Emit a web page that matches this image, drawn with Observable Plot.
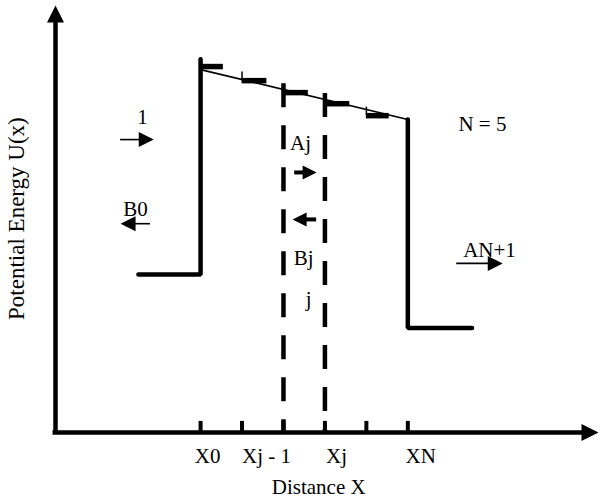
<!DOCTYPE html>
<html><head><meta charset="utf-8">
<script src="https://cdn.jsdelivr.net/npm/d3@7"></script>
<script src="https://cdn.jsdelivr.net/npm/@observablehq/plot@0.6"></script>
<style>body{margin:0;background:#fff} #chart svg{display:block}</style>
</head><body><div id="chart"></div>
<script>
// ---- data (distance units: X0 = 0 ... XN = 5; energy units U) ----
const nodeX = [0, 1, 2, 3, 4, 5];
const tickLabels = ["X0", "Xj - 1", "Xj", "XN"];
const tickLabelX = [0.17, 1.59, 3.28, 5.31];
const tickLabelU = -0.56;

const leftProfileX = [-1.5, 0, 0];
const leftProfileU = [3.7, 3.7, 8.74];
const rightProfileX = [5, 5, 6.55];
const rightProfileU = [7.33, 2.45, 2.45];
const slopeX = [0, 5];
const slopeU = [8.5, 7.33];

const stepStart = [0, 1, 2, 3, 4];
const stepEnd = [0.55, 1.6, 2.6, 3.6, 4.55];
const stepU = [8.57, 8.24, 7.96, 7.70, 7.42];

const dashedX = [2, 3];
const dashedTop = [8.17, 7.94];

const thinArrowX1 = [-1.93, -1.21, 6.18];
const thinArrowX2 = [-1.13, -1.93, 7.29];
const thinArrowU = [6.86, 4.89, 3.96];
const thickArrowX1 = [2.27, 2.80];
const thickArrowX2 = [2.80, 2.22];
const thickArrowU = [6.09, 4.99];

const labelText = ["1", "B0", "Aj", "Bj", "j", "N = 5", "AN+1"];
const labelX = [-1.40, -1.57, 2.41, 2.49, 2.61, 6.80, 6.97];
const labelU = [7.38, 5.22, 6.77, 4.07, 3.11, 7.21, 4.26];

const xMin = -3.5, xMax = 9.6, uMax = 10;
const xTitle = "Distance X";
const yTitle = "Potential Energy U(x)";

// ---- helpers ----
function head(dx, dy) {
  return {
    draw(context, size) {
      const r = Math.sqrt(size / Math.PI);
      const px = -dy, py = dx;
      context.moveTo(0, 0);
      context.lineTo(-2 * r * dx + r * px, -2 * r * dy + r * py);
      context.lineTo(-2 * r * dx - r * px, -2 * r * dy - r * py);
      context.closePath();
    }
  };
}
const idx = n => d3.range(n);
const font = "Liberation Serif, Times New Roman, serif";
const fs = 21;
const arrowShaft = (x1, x2, u) => idx(x1.length).map(i => ({
  x1: x1[i], x2: x2[i] - Math.sign(x2[i] - x1[i]) * 0.2, u: u[i]
}));
const arrowHeads = (x1, x2, u) => idx(x1.length).map(i => ({x: x2[i], u: u[i], dir: Math.sign(x2[i] - x1[i])}));
const thinHeads = arrowHeads(thinArrowX1, thinArrowX2, thinArrowU);
const thickHeads = arrowHeads(thickArrowX1, thickArrowX2, thickArrowU);

const chart = Plot.plot({
  width: 600,
  height: 501,
  margin: 0,
  x: {domain: [xMin, xMax], range: [55, 598], axis: null},
  y: {domain: [0, uMax], range: [432, 5], axis: null},
  style: {fontFamily: font, background: "white", color: "black"},
  marks: [
    // axes
    Plot.ruleY([0], {x1: xMin - 0.06, x2: xMax - 0.3, stroke: "black", strokeWidth: 4.5}),
    Plot.ruleX([xMin], {y1: 0, y2: uMax - 0.35, stroke: "black", strokeWidth: 4.5}),
    Plot.dot([{x: xMax, u: 0}], {x: "x", y: "u", symbol: head(1, 0), r: 8.5, fill: "black", stroke: "none"}),
    Plot.dot([{x: xMin, u: uMax}], {x: "x", y: "u", symbol: head(0, -1), r: 8.5, fill: "black", stroke: "none"}),
    // node ticks
    Plot.ruleX(nodeX, {y1: 0, y2: 0.26, stroke: "black", strokeWidth: 4}),
    // dashed slab boundaries
    Plot.ruleX(idx(2), {x: i => dashedX[i], y1: i => dashedTop[i], y2: 0, stroke: "black", strokeWidth: 4.5, strokeDasharray: "24,18"}),
    // potential profile
    Plot.line(idx(3), {x: i => leftProfileX[i], y: i => leftProfileU[i], stroke: "black", strokeWidth: 4.5, strokeLinejoin: "miter", curve: "linear"}),
    Plot.line(idx(3), {x: i => rightProfileX[i], y: i => rightProfileU[i], stroke: "black", strokeWidth: 4.5, strokeLinejoin: "miter", curve: "linear"}),
    Plot.line(idx(2), {x: i => slopeX[i], y: i => slopeU[i], stroke: "black", strokeWidth: 1.7}),
    // step approximation
    Plot.ruleY(idx(5), {y: i => stepU[i], x1: i => stepStart[i], x2: i => stepEnd[i], stroke: "black", strokeWidth: 5.5}),
    Plot.ruleX(idx(4).map(i => i + 1), {x: i => stepStart[i], y1: i => stepU[i], y2: i => stepU[i] + 0.2, stroke: "black", strokeWidth: 1.5}),
    // arrows
    Plot.ruleY(arrowShaft(thinArrowX1, thinArrowX2, thinArrowU), {y: "u", x1: "x1", x2: "x2", stroke: "black", strokeWidth: 1.6}),
    Plot.ruleY(arrowShaft(thickArrowX1, thickArrowX2, thickArrowU), {y: "u", x1: "x1", x2: "x2", stroke: "black", strokeWidth: 4}),
    Plot.dot(thinHeads.filter(d => d.dir > 0), {x: "x", y: "u", symbol: head(1, 0), r: 7.5, fill: "black", stroke: "none"}),
    Plot.dot(thinHeads.filter(d => d.dir < 0), {x: "x", y: "u", symbol: head(-1, 0), r: 7.5, fill: "black", stroke: "none"}),
    Plot.dot(thickHeads.filter(d => d.dir > 0), {x: "x", y: "u", symbol: head(1, 0), r: 7, fill: "black", stroke: "none"}),
    Plot.dot(thickHeads.filter(d => d.dir < 0), {x: "x", y: "u", symbol: head(-1, 0), r: 7, fill: "black", stroke: "none"}),
    // labels
    Plot.text(idx(labelText.length), {x: i => labelX[i], y: i => labelU[i], text: i => labelText[i], fontSize: fs, fill: "black"}),
    Plot.text(idx(tickLabels.length), {x: i => tickLabelX[i], y: tickLabelU, text: i => tickLabels[i], fontSize: fs, fill: "black"}),
    Plot.text([xTitle], {x: 2.85, y: -1.29, text: d => d, fontSize: fs, fill: "black"}),
    Plot.text([yTitle], {x: -4.44, y: 5.01, text: d => d, fontSize: 23, fill: "black", rotate: -90})
  ]
});
document.getElementById("chart").append(chart);
</script>
</body></html>
